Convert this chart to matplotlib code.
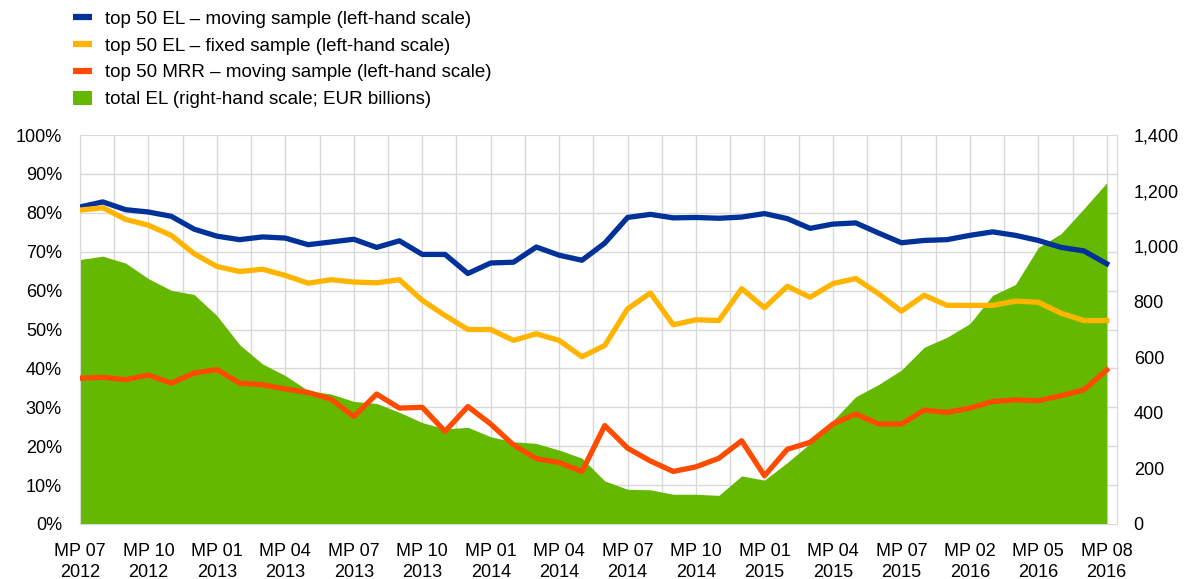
import matplotlib
matplotlib.use("Agg")
import matplotlib.pyplot as plt
from matplotlib.ticker import MultipleLocator, FuncFormatter
from matplotlib.lines import Line2D
from matplotlib.patches import Patch

plt.rcParams['font.family'] = ['Liberation Sans', 'DejaVu Sans']

# x-axis labels, one every third maintenance period
tick_labels = ["MP 07\n2012", "MP 10\n2012", "MP 01\n2013", "MP 04\n2013",
               "MP 07\n2013", "MP 10\n2013", "MP 01\n2014", "MP 04\n2014",
               "MP 07\n2014", "MP 10\n2014", "MP 01\n2015", "MP 04\n2015",
               "MP 07\n2015", "MP 02\n2016", "MP 05\n2016", "MP 08\n2016"]

# top 50 EL - moving sample (%)
el_moving = [81.5, 82.8, 80.8, 80.2, 79.1, 75.8, 74.0, 73.1, 73.8, 73.5,
             71.8, 72.5, 73.2, 71.1, 72.8, 69.3, 69.3, 64.4, 67.1, 67.3,
             71.2, 69.1, 67.8, 72.2, 78.8, 79.6, 78.7, 78.8, 78.6, 78.9,
             79.8, 78.5, 76.0, 77.1, 77.4, 74.8, 72.3, 72.9, 73.1, 74.2,
             75.1, 74.2, 72.9, 71.1, 70.2, 66.9]

# top 50 EL - fixed sample (%)
el_fixed = [80.7, 81.3, 78.3, 76.8, 74.2, 69.5, 66.2, 64.9, 65.5, 63.9,
            61.9, 62.8, 62.2, 62.0, 62.8, 57.5, 53.6, 50.0, 50.0, 47.2,
            48.9, 47.2, 43.0, 45.9, 55.3, 59.4, 51.2, 52.5, 52.3, 60.5,
            55.6, 61.1, 58.3, 61.8, 63.1, 59.2, 54.7, 58.8, 56.2, 56.2,
            56.2, 57.3, 57.0, 54.2, 52.3, 52.3]

# top 50 MRR - moving sample (%)
mrr_moving = [37.5, 37.7, 37.1, 38.3, 36.2, 38.8, 39.7, 36.2, 35.8, 34.7,
              33.8, 32.1, 27.6, 33.4, 29.8, 30.0, 23.8, 30.2, 25.7, 20.3,
              16.8, 15.8, 13.5, 25.3, 19.5, 16.2, 13.5, 14.7, 16.9, 21.4,
              12.4, 19.2, 21.0, 25.7, 28.3, 25.7, 25.7, 29.3, 28.7, 29.8,
              31.5, 31.9, 31.7, 33.0, 34.5, 39.6]

# total EL (EUR billions)
total_el = [952, 964, 939, 883, 841, 826, 750, 645, 576, 534,
            480, 468, 441, 434, 402, 365, 342, 348, 314, 296,
            290, 266, 237, 155, 125, 123, 107, 107, 103, 173,
            158, 221, 290, 372, 458, 502, 554, 636, 672, 721,
            823, 862, 995, 1045, 1135, 1228]

x = list(range(len(total_el)))

blue = "#003299"
yellow = "#FFB400"
orange = "#FF4B00"
green = "#65B800"
grid_col = "#d9d9d9"

fig = plt.figure(figsize=(11.94, 5.79), dpi=100)
ax = fig.add_axes([80 / 1194, 1 - 524 / 579, (1117 - 80) / 1194, (524 - 135) / 579])
axl = ax.twinx()

# right-hand scale: total EL area (drawn below, carries the grid)
ax.fill_between(x, 0, total_el, color=green, linewidth=0)
ax.set_ylim(0, 1400)
ax.set_xlim(0, 45.45)
ax.yaxis.tick_right()
ax.yaxis.set_major_locator(MultipleLocator(200))
ax.yaxis.set_minor_locator(MultipleLocator(140))
ax.yaxis.set_major_formatter(FuncFormatter(lambda v, p: f"{int(v):,}"))
ax.set_xticks(x[::3])
ax.set_xticklabels(tick_labels, linespacing=1.3)
ax.xaxis.set_minor_locator(MultipleLocator(1.5))
ax.set_axisbelow(True)
ax.grid(axis='x', which='both', color=grid_col, linewidth=1)
ax.grid(axis='y', which='minor', color=grid_col, linewidth=1)
ax.tick_params(which='both', length=0, labelsize=13, colors='black')
ax.tick_params(axis='x', pad=14)
ax.tick_params(axis='y', pad=12)
for s in ax.spines.values():
    s.set_color(grid_col)

# left-hand scale: percentages
axl.yaxis.tick_left()
axl.plot(x, el_moving, color=blue, lw=3.8)
axl.plot(x, el_fixed, color=yellow, lw=3.8)
axl.plot(x, mrr_moving, color=orange, lw=3.8)
axl.set_ylim(0, 100)
axl.yaxis.set_major_locator(MultipleLocator(10))
axl.yaxis.set_major_formatter(FuncFormatter(lambda v, p: f"{int(v)}%"))
axl.tick_params(length=0, labelsize=13, colors='black', pad=13)
for s in axl.spines.values():
    s.set_visible(False)

handles = [Line2D([], [], color=blue, lw=4.5, solid_capstyle='butt'),
           Line2D([], [], color=yellow, lw=4.5, solid_capstyle='butt'),
           Line2D([], [], color=orange, lw=4.5, solid_capstyle='butt'),
           Patch(facecolor=green, edgecolor='none')]
labels = ["top 50 EL \u2013 moving sample (left-hand scale)",
          "top 50 EL \u2013 fixed sample (left-hand scale)",
          "top 50 MRR \u2013 moving sample (left-hand scale)",
          "total EL (right-hand scale; EUR billions)"]
fig.legend(handles, labels, loc='upper left', bbox_to_anchor=(0.061, 0.982),
           frameon=False, fontsize=13.5, borderpad=0, borderaxespad=0,
           handlelength=1.0, handleheight=0.75, handletextpad=0.7,
           labelspacing=0.5)

fig.savefig("out.png", dpi=100)
